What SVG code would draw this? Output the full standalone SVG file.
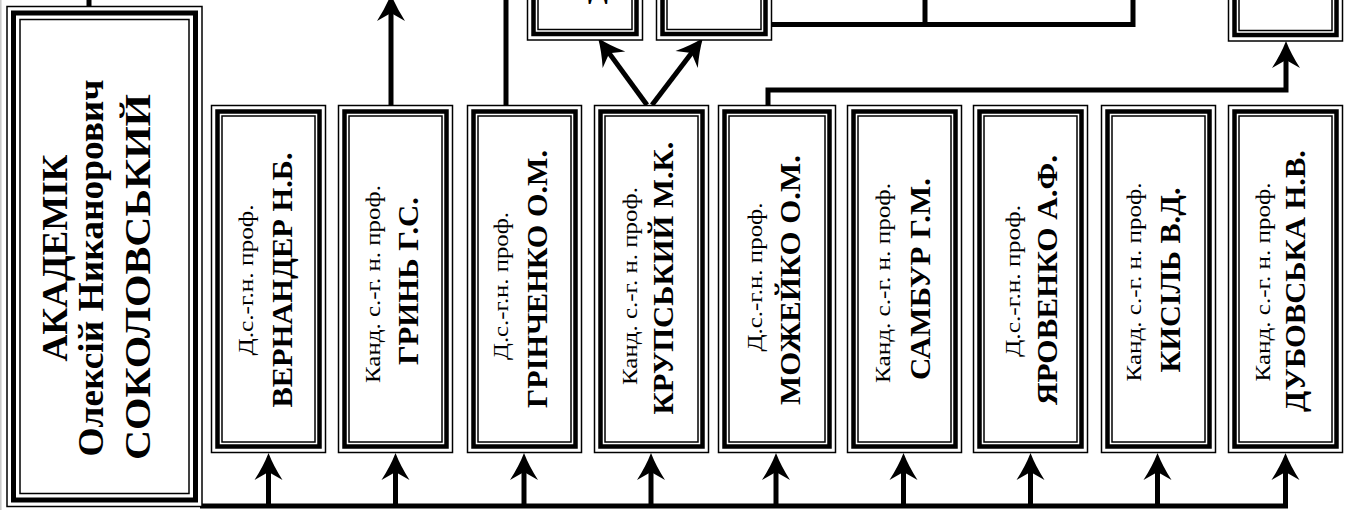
<svg xmlns="http://www.w3.org/2000/svg" width="1351" height="510" viewBox="0 0 1351 510">
<style>
.o{fill:#fff;stroke:#000;stroke-width:1.5}
.t{fill:none;stroke:#000;stroke-width:4.5}
.i{fill:none;stroke:#000;stroke-width:1.5}
.c{fill:none;stroke:#000;stroke-width:5;stroke-linejoin:miter}
.r{font-family:"Liberation Serif","Times New Roman",serif;font-size:22px;fill:#000}
.b{font-family:"Liberation Serif","Times New Roman",serif;font-size:29px;font-weight:bold;fill:#000}
.a{font-family:"Liberation Serif","Times New Roman",serif;font-size:36px;font-weight:bold;fill:#000}
</style>
<defs>
<marker id="ah" markerUnits="userSpaceOnUse" markerWidth="40" markerHeight="40" viewBox="-20 -20 40 40" refX="0" refY="0" orient="auto">
<path d="M15,0 Q2,-5 -12,-14 L-4,0 L-12,14 Q2,5 15,0 Z" fill="#000"/>
</marker>
</defs>
<rect width="1351" height="510" fill="#fff"/>
<line x1="0.8" y1="0" x2="0.8" y2="510" stroke="#c8c8c8" stroke-width="1.5"/>

<g id="connectors">
<path class="c" d="M89,0 V8"/>
<path class="c" d="M391,105 V9" marker-end="url(#ah)"/>
<path class="c" d="M506,105 V0"/>
<path class="c" d="M647,105 L606.9,50.1" marker-end="url(#ah)"/>
<path class="c" d="M652,105 L693.9,49.9" marker-end="url(#ah)"/>
<path class="c" d="M772,24.5 H1133 V0"/>
<path class="c" d="M925,0 V24.5"/>
<path class="c" d="M768,105 V90 H1286 V56" marker-end="url(#ah)"/>
<path class="c" d="M200,506 H1288"/>
<path class="c" d="M268.5,506 V468" marker-end="url(#ah)"/>
<path class="c" d="M395.5,506 V468" marker-end="url(#ah)"/>
<path class="c" d="M524,506 V468" marker-end="url(#ah)"/>
<path class="c" d="M651,506 V468" marker-end="url(#ah)"/>
<path class="c" d="M776,506 V468" marker-end="url(#ah)"/>
<path class="c" d="M903.5,506 V468" marker-end="url(#ah)"/>
<path class="c" d="M1030.5,506 V468" marker-end="url(#ah)"/>
<path class="c" d="M1157.5,506 V468" marker-end="url(#ah)"/>
<path class="c" d="M1285.5,506 V468" marker-end="url(#ah)"/>
</g>

<g id="academic">
<rect class="o" x="7" y="6.5" width="195" height="500"/>
<rect class="t" x="13.5" y="13" width="182" height="487" style="stroke-width:5"/>
<rect class="i" x="20" y="19.5" width="169" height="474"/>
<text class="a" transform="translate(67,258) rotate(-90)" text-anchor="middle" textLength="207" lengthAdjust="spacingAndGlyphs">АКАДЕМІК</text>
<text class="a" transform="translate(103,268) rotate(-90)" text-anchor="middle" textLength="377" lengthAdjust="spacingAndGlyphs">Олексій Никанорович</text>
<text class="a" transform="translate(150,277) rotate(-90)" text-anchor="middle" textLength="366" lengthAdjust="spacingAndGlyphs">СОКОЛОВСЬКИЙ</text>
</g>

<g id="top-a">
<rect class="o" x="527.5" y="-80" width="115" height="120"/>
<rect class="t" x="533.5" y="-74" width="103" height="108"/>
<rect class="i" x="538" y="-70" width="94" height="99.5"/>
<text class="b" x="588" y="-2">Д</text>
</g>
<g id="top-b">
<rect class="o" x="656.5" y="-80" width="115" height="120"/>
<rect class="t" x="662.5" y="-74" width="103" height="108"/>
<rect class="i" x="667" y="-70" width="94" height="99.5"/>
</g>
<g id="top-c">
<rect class="o" x="1228.5" y="-80" width="114" height="121"/>
<rect class="t" x="1234.5" y="-74" width="102" height="109"/>
<rect class="i" x="1239" y="-70" width="93" height="100.5"/>
</g>

<g id="n1">
<rect class="o" x="211.5" y="105.5" width="114" height="347"/>
<rect class="t" x="217.5" y="111.5" width="102" height="335"/>
<rect class="i" x="222" y="116" width="93" height="326"/>
<text class="r" transform="translate(253,280) rotate(-90)" text-anchor="middle" textLength="151" lengthAdjust="spacingAndGlyphs">Д.с.-г.н. проф.</text>
<text class="b" transform="translate(292,280) rotate(-90)" text-anchor="middle" textLength="255" lengthAdjust="spacingAndGlyphs">ВЕРНАНДЕР Н.Б.</text>
</g>
<g id="n2">
<rect class="o" x="338.5" y="105.5" width="114" height="347"/>
<rect class="t" x="344.5" y="111.5" width="102" height="335"/>
<rect class="i" x="349" y="116" width="93" height="326"/>
<text class="r" transform="translate(380,284) rotate(-90)" text-anchor="middle" textLength="198" lengthAdjust="spacingAndGlyphs">Канд. с.-г. н. проф.</text>
<text class="b" transform="translate(418,281) rotate(-90)" text-anchor="middle" textLength="168" lengthAdjust="spacingAndGlyphs">ГРИНЬ Г.С.</text>
</g>
<g id="n3">
<rect class="o" x="467.5" y="105.5" width="114" height="347"/>
<rect class="t" x="473.5" y="111.5" width="102" height="335"/>
<rect class="i" x="478" y="116" width="93" height="326"/>
<text class="r" transform="translate(508,286) rotate(-90)" text-anchor="middle" textLength="148" lengthAdjust="spacingAndGlyphs">Д.с.-г.н. проф.</text>
<text class="b" transform="translate(547,279) rotate(-90)" text-anchor="middle" textLength="258" lengthAdjust="spacingAndGlyphs">ГРІНЧЕНКО О.М.</text>
</g>
<g id="n4">
<rect class="o" x="594.5" y="105.5" width="114" height="347"/>
<rect class="t" x="600.5" y="111.5" width="102" height="335"/>
<rect class="i" x="605" y="116" width="93" height="326"/>
<text class="r" transform="translate(637,286) rotate(-90)" text-anchor="middle" textLength="198" lengthAdjust="spacingAndGlyphs">Канд. с.-г. н. проф.</text>
<text class="b" transform="translate(673,278) rotate(-90)" text-anchor="middle" textLength="273" lengthAdjust="spacingAndGlyphs">КРУПСЬКИЙ М.К.</text>
</g>
<g id="n5">
<rect class="o" x="718.5" y="105.5" width="117" height="347"/>
<rect class="t" x="724.5" y="111.5" width="105" height="335"/>
<rect class="i" x="729" y="116" width="96" height="326"/>
<text class="r" transform="translate(762,277) rotate(-90)" text-anchor="middle" textLength="149" lengthAdjust="spacingAndGlyphs">Д.с.-г.н. проф.</text>
<text class="b" transform="translate(800,280) rotate(-90)" text-anchor="middle" textLength="250" lengthAdjust="spacingAndGlyphs">МОЖЕЙКО О.М.</text>
</g>
<g id="n6">
<rect class="o" x="847.5" y="105.5" width="114" height="347"/>
<rect class="t" x="853.5" y="111.5" width="102" height="335"/>
<rect class="i" x="858" y="116" width="93" height="326"/>
<text class="r" transform="translate(890,283) rotate(-90)" text-anchor="middle" textLength="200" lengthAdjust="spacingAndGlyphs">Канд. с.-г. н. проф.</text>
<text class="b" transform="translate(930,279) rotate(-90)" text-anchor="middle" textLength="202" lengthAdjust="spacingAndGlyphs">САМБУР Г.М.</text>
</g>
<g id="n7">
<rect class="o" x="973.5" y="105.5" width="114" height="347"/>
<rect class="t" x="979.5" y="111.5" width="102" height="335"/>
<rect class="i" x="984" y="116" width="93" height="326"/>
<text class="r" transform="translate(1020,281) rotate(-90)" text-anchor="middle" textLength="152" lengthAdjust="spacingAndGlyphs">Д.с.-г.н. проф.</text>
<text class="b" transform="translate(1057,280) rotate(-90)" text-anchor="middle" textLength="250" lengthAdjust="spacingAndGlyphs">ЯРОВЕНКО А.Ф.</text>
</g>
<g id="n8">
<rect class="o" x="1101.5" y="105.5" width="114" height="347"/>
<rect class="t" x="1107.5" y="111.5" width="102" height="335"/>
<rect class="i" x="1112" y="116" width="93" height="326"/>
<text class="r" transform="translate(1141,282) rotate(-90)" text-anchor="middle" textLength="199" lengthAdjust="spacingAndGlyphs">Канд. с.-г. н. проф.</text>
<text class="b" transform="translate(1180,280) rotate(-90)" text-anchor="middle" textLength="185" lengthAdjust="spacingAndGlyphs">КИСІЛЬ В.Д.</text>
</g>
<g id="n9">
<rect class="o" x="1228.5" y="105.5" width="114" height="347"/>
<rect class="t" x="1234.5" y="111.5" width="102" height="335"/>
<rect class="i" x="1239" y="116" width="93" height="326"/>
<text class="r" transform="translate(1270,282) rotate(-90)" text-anchor="middle" textLength="199" lengthAdjust="spacingAndGlyphs">Канд. с.-г. н. проф.</text>
<text class="b" transform="translate(1305,281) rotate(-90)" text-anchor="middle" textLength="262" lengthAdjust="spacingAndGlyphs">ДУБОВСЬКА Н.В.</text>
</g>
</svg>
